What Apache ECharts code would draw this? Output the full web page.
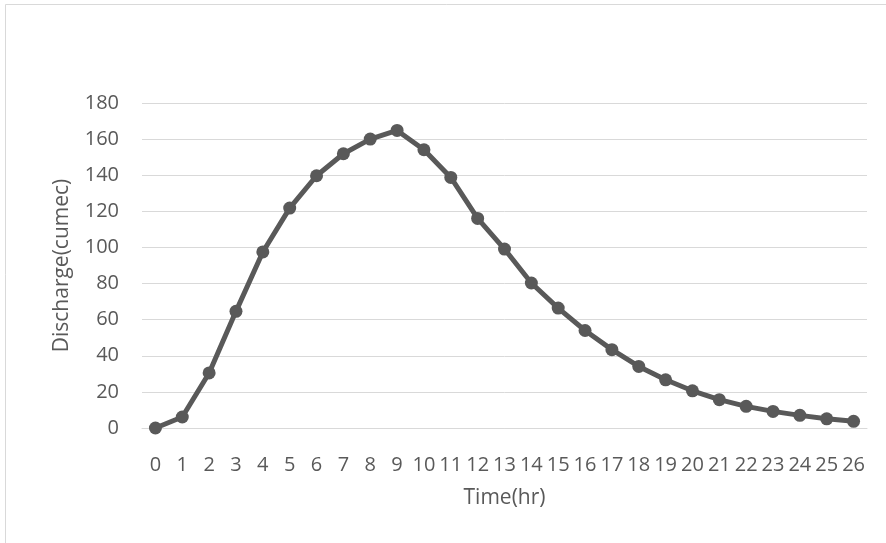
<!DOCTYPE html>
<html>
<head>
<meta charset="utf-8">
<script src="https://cdn.jsdelivr.net/npm/echarts@6/dist/echarts.min.js"></script>
<style>
  html, body { margin: 0; padding: 0; background: #fff; }
  #chart { width: 886px; height: 543px; }
</style>
</head>
<body>
<div id="chart"></div>
<script>
var hours = ['0', '1', '2', '3', '4', '5', '6', '7', '8', '9', '10', '11', '12', '13',
  '14', '15', '16', '17', '18', '19', '20', '21', '22', '23', '24', '25', '26'];
var discharge = [0, 6.1, 30.5, 64.6, 97.5, 121.8, 139.7, 151.9, 160.0, 164.8, 154.1,
  138.8, 116.1, 99.1, 80.3, 66.4, 54.0, 43.4, 34.1, 26.7, 20.6, 15.7, 12.0, 9.2, 7.0, 5.1, 3.7];

var font = 'Open Sans';
var grey = '#595959';

var chart = echarts.init(document.getElementById('chart'));
chart.setOption({
  animation: false,
  backgroundColor: '#fff',
  graphic: [{
    type: 'rect',
    shape: { x: 5.5, y: 4.5, width: 900, height: 560 },
    style: { fill: null, stroke: '#d9d9d9', lineWidth: 1 }
  }],
  grid: { left: 142, right: 19, top: 103, bottom: 115 },
  xAxis: {
    type: 'category',
    data: hours,
    boundaryGap: true,
    name: 'Time(hr)',
    nameLocation: 'middle',
    nameGap: 60,
    nameTextStyle: { color: grey, fontFamily: font, fontSize: 21 },
    axisLine: { lineStyle: { color: '#d9d9d9', width: 1 } },
    axisTick: { show: false },
    axisLabel: { interval: 0, color: grey, fontFamily: font, fontSize: 20, margin: 27 }
  },
  yAxis: {
    type: 'value',
    min: 0,
    max: 180,
    interval: 20,
    name: 'Discharge(cumec)',
    nameLocation: 'middle',
    nameGap: 69,
    nameTextStyle: { color: grey, fontFamily: font, fontSize: 21 },
    axisLine: { show: false },
    axisTick: { show: false },
    axisLabel: { color: grey, fontFamily: font, fontSize: 20, margin: 23 },
    splitLine: { lineStyle: { color: '#d9d9d9', width: 1 } }
  },
  series: [{
    type: 'line',
    data: discharge,
    symbol: 'circle',
    symbolSize: 13,
    lineStyle: { color: grey, width: 5 },
    itemStyle: { color: grey }
  }]
});
</script>
</body>
</html>
